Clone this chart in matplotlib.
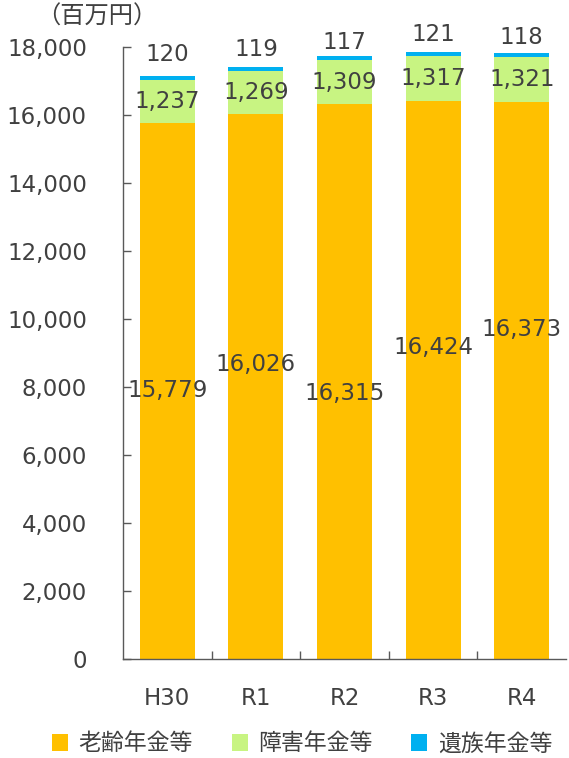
import matplotlib
matplotlib.use('Agg')
import matplotlib.pyplot as plt
from matplotlib.patches import Patch
import numpy as np

# data (百万円)
years = ['H30', 'R1', 'R2', 'R3', 'R4']
rorei = [15779, 16026, 16315, 16424, 16373]
shogai = [1237, 1269, 1309, 1317, 1321]
izoku = [120, 119, 117, 121, 118]
series_names = ['老齢年金等', '障害年金等', '遺族年金等']

# where the labels sit in the reference (data units)
rorei_label_y = [7890, 8660, 7820, 9150, 9700]
izoku_label_y = [17765, 17941, 18118, 18353, 18265]

colors = ['#FFC000', '#C8F482', '#00B0F0']
text_color = '#404040'
fs = 16.5

plt.rcParams['font.family'] = ['DejaVu Sans', 'Noto Sans CJK JP']

fig = plt.figure(figsize=(5.69, 7.58), dpi=100)
ax = fig.add_axes([123 / 569, 99 / 758, 443 / 569, 612 / 758])

x = np.arange(len(years))
w = 0.62
b1 = ax.bar(x, rorei, w, color=colors[0], zorder=2)
b2 = ax.bar(x, shogai, w, bottom=rorei, color=colors[1], zorder=2)
tops = np.array(rorei) + np.array(shogai)
b3 = ax.bar(x, izoku, w, bottom=tops, color=colors[2], zorder=2)

for i in range(len(years)):
    ax.text(x[i], rorei_label_y[i], f'{rorei[i]:,}', ha='center', va='center',
            fontsize=fs, color=text_color, zorder=3)
    ax.text(x[i], rorei[i] + shogai[i] / 2, f'{shogai[i]:,}', ha='center', va='center',
            fontsize=fs, color=text_color, zorder=3)
    ax.text(x[i], izoku_label_y[i], f'{izoku[i]:,}', ha='center', va='center',
            fontsize=fs, color=text_color, zorder=3)

ax.set_xlim(-0.5, len(years) - 0.5)
ax.set_ylim(0, 18000)
ax.set_yticks(range(0, 18001, 2000))
ax.set_yticklabels([f'{v:,}' for v in range(0, 18001, 2000)])
ax.set_xticks(x)
ax.set_xticklabels(years)
ax.set_xticks(np.arange(0.5, len(years) - 1, 1), minor=True)

for s in ['top', 'right']:
    ax.spines[s].set_visible(False)
for s in ['left', 'bottom']:
    ax.spines[s].set_color('#595959')
    ax.spines[s].set_linewidth(1.0)

ax.tick_params(axis='y', direction='in', length=6, width=1.0, color='#595959',
               pad=26, labelsize=fs, labelcolor=text_color)
ax.tick_params(axis='x', which='major', length=0, pad=20, labelsize=fs, labelcolor=text_color)
ax.tick_params(axis='x', which='minor', direction='in', length=6, width=1.0, color='#595959')

fig.text(36 / 569, 1 - 17 / 758, '（百万円）', ha='left', va='center',
         fontsize=17.5, color=text_color)

handles = [Patch(facecolor=c, edgecolor='none') for c in colors]
fig.legend(handles, series_names, loc='center', bbox_to_anchor=(302 / 569, 14 / 758),
           ncol=3, frameon=False, fontsize=fs, handlelength=0.7, handleheight=0.7,
           handletextpad=0.45, columnspacing=1.7, labelcolor=text_color)

fig.savefig('out.png', dpi=100)
